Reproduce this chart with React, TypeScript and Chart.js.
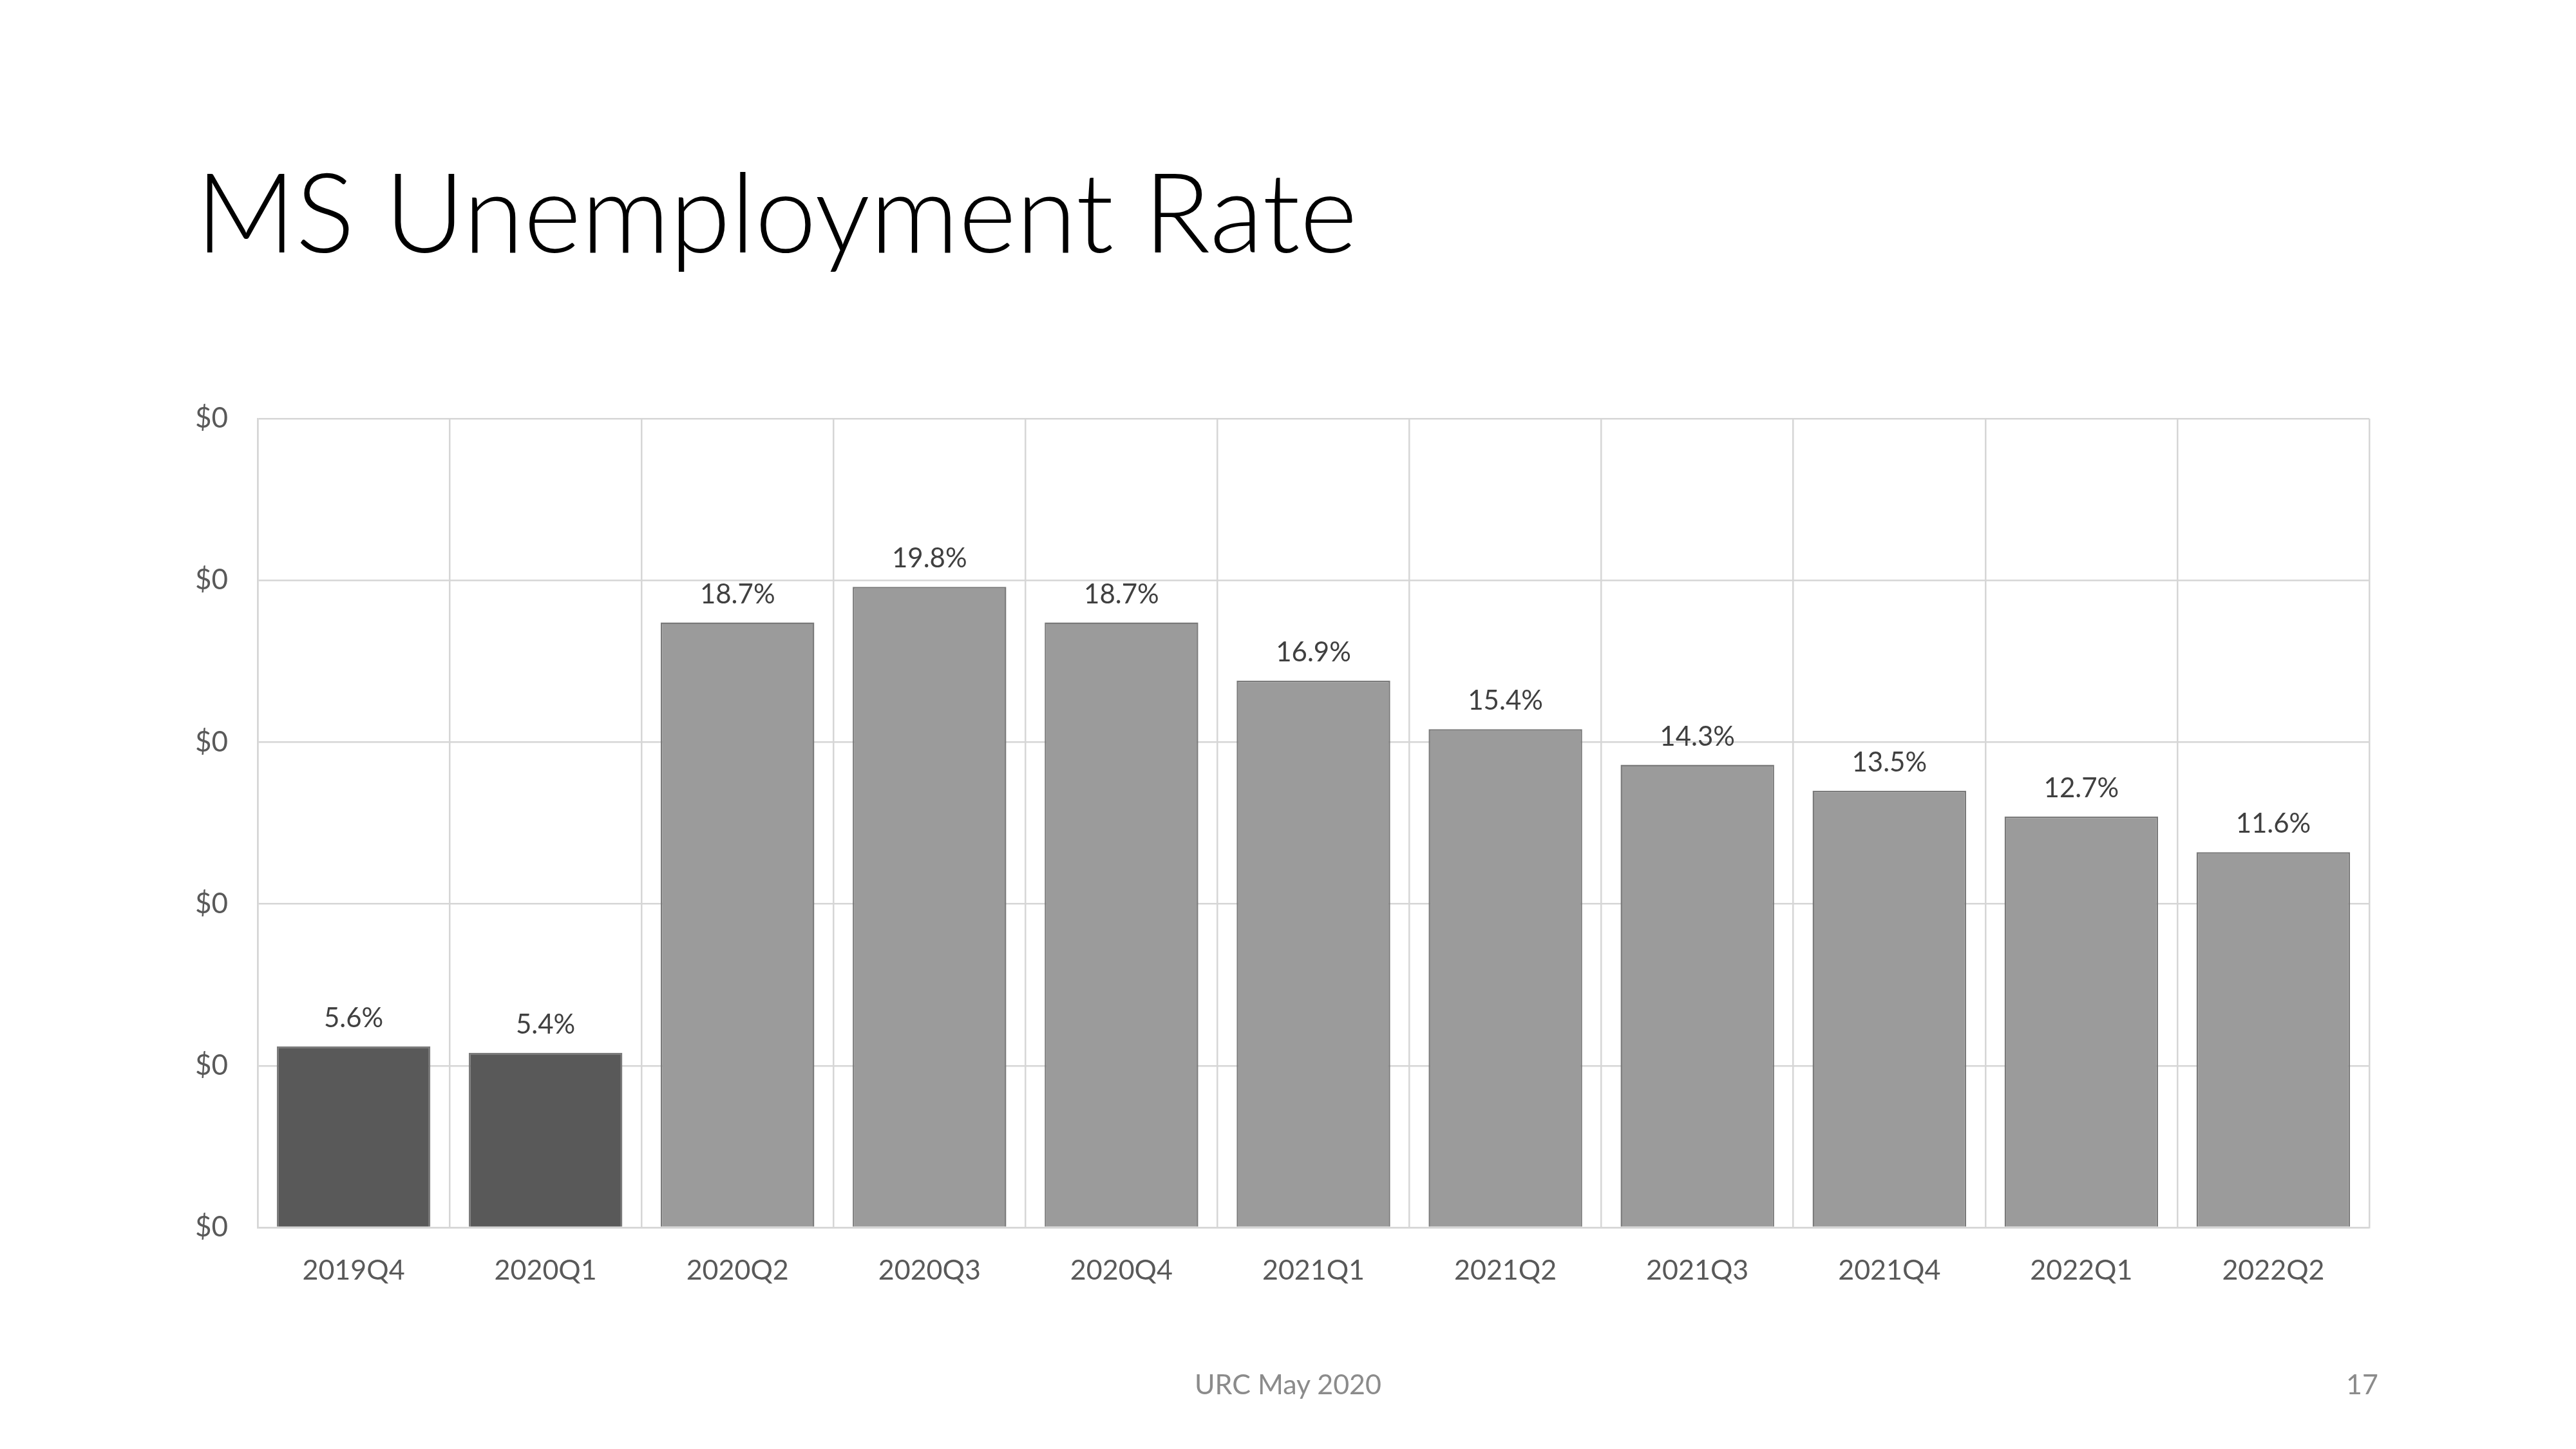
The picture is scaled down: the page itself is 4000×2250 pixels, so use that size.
import React, { useEffect, useRef } from "react";
import { Chart, registerables } from "chart.js";

Chart.register(...registerables);

const categories = [
  "2019Q4", "2020Q1", "2020Q2", "2020Q3", "2020Q4", "2021Q1",
  "2021Q2", "2021Q3", "2021Q4", "2022Q1", "2022Q2",
];
const rates = [5.6, 5.4, 18.7, 19.8, 18.7, 16.9, 15.4, 14.3, 13.5, 12.7, 11.6];
const actualCount = 2; // first two quarters are actuals (dark bars)
const yTickLabel = "$0";
const titleText = "MS Unemployment Rate";
const footerText = "URC May 2020";
const pageNumber = "17";

const FONT = "Lato, 'Open Sans', sans-serif";

const dataLabelPlugin = {
  id: "dataLabels",
  afterDatasetsDraw(chart: any) {
    const ctx = chart.ctx;
    const meta = chart.getDatasetMeta(0);
    ctx.save();
    ctx.font = `400 42px ${FONT}`;
    ctx.fillStyle = "#404040";
    ctx.textAlign = "center";
    ctx.textBaseline = "alphabetic";
    meta.data.forEach((bar: any, i: number) => {
      const v = chart.data.datasets[0].data[i];
      ctx.fillText(`${v.toFixed(1)}%`, bar.x, bar.y - 30);
    });
    ctx.restore();
  },
};

export default function App() {
  const ref = useRef<HTMLCanvasElement>(null);

  useEffect(() => {
    if (!ref.current) return;
    const colors = rates.map((_, i) => (i < actualCount ? "#595959" : "#9b9b9b"));
    const chart = new Chart(ref.current, {
      type: "bar",
      data: {
        labels: categories,
        datasets: [
          {
            data: rates,
            backgroundColor: colors,
            borderColor: "#7a7a7a",
            borderWidth: 2.5,
            barPercentage: 0.8,
            categoryPercentage: 1,
          },
        ],
      },
      options: {
        animation: false,
        responsive: false,
        devicePixelRatio: 1,
        layout: { padding: { left: 0, right: 321, top: 650, bottom: 0 } },
        plugins: {
          legend: { display: false },
          tooltip: { enabled: false },
          title: { display: false },
        },
        scales: {
          x: {
            offset: true,
            grid: {
              offset: true,
              color: "#d6d6d6",
              lineWidth: 2.5,
              drawTicks: false,
            },
            border: { color: "#d6d6d6", width: 2.5 },
            ticks: {
              color: "#595959",
              font: { family: FONT, size: 43 },
              padding: 41,
            },
            afterFit: (scale: any) => {
              scale.height = 2250 - 1906;
            },
          },
          y: {
            min: 0,
            max: 25,
            ticks: {
              stepSize: 5,
              color: "#595959",
              font: { family: FONT, size: 44 },
              padding: 46,
              callback: () => yTickLabel,
            },
            grid: { color: "#d6d6d6", lineWidth: 2.5, drawTicks: false },
            border: { color: "#d6d6d6", width: 2.5 },
            afterFit: (scale: any) => {
              scale.width = 400;
            },
          },
        },
      },
      plugins: [dataLabelPlugin],
    });
    return () => chart.destroy();
  }, []);

  return (
    <div
      style={{
        position: "absolute",
        left: 0,
        top: 0,
        width: 4000,
        height: 2250,
        background: "#ffffff",
        overflow: "hidden",
      }}
    >
      <canvas
        ref={ref}
        width={4000}
        height={2250}
        style={{ position: "absolute", left: 0, top: 0, width: 4000, height: 2250 }}
      />
      <div
        style={{
          position: "absolute",
          left: 304,
          top: 240,
          fontFamily: FONT,
          fontWeight: 300,
          fontSize: 171,
          lineHeight: "171px",
          color: "#000000",
          whiteSpace: "nowrap",
        }}
      >
        {titleText}
      </div>
      <div
        style={{
          position: "absolute",
          left: 1700,
          width: 600,
          top: 2124,
          textAlign: "center",
          fontFamily: FONT,
          fontSize: 43,
          lineHeight: "50px",
          color: "#8b8b8b",
        }}
      >
        {footerText}
      </div>
      <div
        style={{
          position: "absolute",
          right: 4000 - 3693,
          top: 2124,
          textAlign: "right",
          fontFamily: FONT,
          fontSize: 43,
          lineHeight: "50px",
          color: "#8b8b8b",
        }}
      >
        {pageNumber}
      </div>
    </div>
  );
}
